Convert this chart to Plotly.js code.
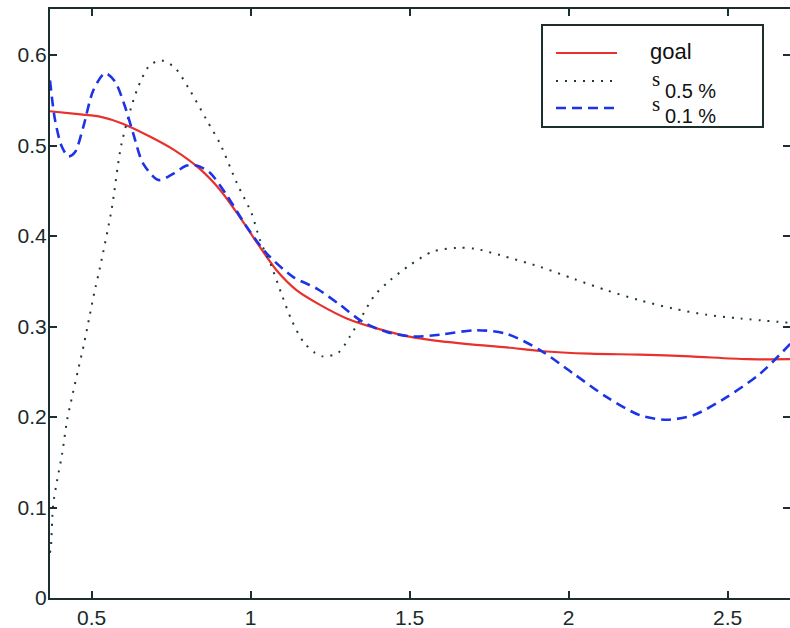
<!DOCTYPE html>
<html>
<head>
<meta charset="utf-8">
<script src="https://cdn.plot.ly/plotly-3.0.1.min.js"></script>
<style>html,body{margin:0;padding:0;background:#fff;}#chart{width:790px;height:628px;}</style>
</head>
<body>
<div id="chart"></div>
<script>
// goal curve
const goalX = [0.369, 0.45, 0.526, 0.60, 0.683, 0.76, 0.841, 0.904, 0.966, 1.029, 1.082, 1.145, 1.218, 1.302, 1.396, 1.511, 1.616, 1.70, 1.805, 1.91, 2.067, 2.224, 2.382, 2.56, 2.70];
const goalY = [0.538, 0.535, 0.532, 0.524, 0.510, 0.495, 0.474, 0.451, 0.421, 0.388, 0.362, 0.340, 0.324, 0.309, 0.298, 0.288, 0.283, 0.280, 0.277, 0.273, 0.270, 0.269, 0.267, 0.264, 0.264];

// s 0.5 %
const s05X = [0.369, 0.372, 0.379, 0.392, 0.407, 0.423, 0.44, 0.458, 0.476, 0.492, 0.508, 0.526, 0.563, 0.594, 0.642, 0.683, 0.72, 0.762, 0.809, 0.862, 0.904, 0.956, 1.003, 1.029, 1.066, 1.098, 1.129, 1.166, 1.202, 1.228, 1.275, 1.312, 1.349, 1.391, 1.438, 1.501, 1.573, 1.648, 1.705, 1.784, 1.91, 2.014, 2.12, 2.224, 2.328, 2.434, 2.539, 2.70];
const s05Y = [0.050, 0.057, 0.103, 0.131, 0.159, 0.197, 0.225, 0.253, 0.281, 0.309, 0.337, 0.365, 0.430, 0.502, 0.561, 0.589, 0.594, 0.586, 0.561, 0.528, 0.502, 0.459, 0.425, 0.396, 0.366, 0.335, 0.307, 0.283, 0.271, 0.267, 0.271, 0.289, 0.311, 0.335, 0.351, 0.368, 0.383, 0.387, 0.386, 0.379, 0.366, 0.353, 0.340, 0.329, 0.320, 0.313, 0.309, 0.304];

// s 0.1 %
const s01X = [0.369, 0.385, 0.406, 0.427, 0.448, 0.474, 0.505, 0.542, 0.573, 0.605, 0.631, 0.662, 0.710, 0.757, 0.799, 0.83, 0.872, 0.925, 0.988, 1.05, 1.133, 1.208, 1.281, 1.353, 1.428, 1.511, 1.595, 1.71, 1.805, 1.91, 2.015, 2.12, 2.224, 2.308, 2.392, 2.497, 2.602, 2.70];
const s01Y = [0.572, 0.528, 0.499, 0.488, 0.493, 0.521, 0.561, 0.580, 0.571, 0.543, 0.513, 0.480, 0.462, 0.469, 0.478, 0.478, 0.470, 0.445, 0.410, 0.381, 0.355, 0.342, 0.324, 0.305, 0.294, 0.289, 0.291, 0.296, 0.292, 0.274, 0.248, 0.222, 0.202, 0.197, 0.202, 0.222, 0.248, 0.282];

// legend labels: main symbol + subscript
const legendMain = ['goal', 's', 's'];
const legendSub = ['', '0.5 %', '0.1 %'];

const xTicks = [0.5, 1, 1.5, 2, 2.5];
const xTickText = ['0.5', '1', '1.5', '2', '2.5'];
const yTicks = [0, 0.1, 0.2, 0.3, 0.4, 0.5, 0.6];
const yTickText = ['0', '0.1', '0.2', '0.3', '0.4', '0.5', '0.6'];

const axisColor = '#1c2e2e';
const sans = 'Liberation Sans, Arial, sans-serif';
const serif = 'Liberation Serif, Times New Roman, serif';

const lineStyles = [
  {color: '#e8302c', width: 2.2, shape: 'spline', smoothing: 0.8},
  {color: '#1f3a38', width: 2, dash: '2px,7px', shape: 'spline', smoothing: 0.8},
  {color: '#1c34e6', width: 2.6, dash: '10px,6px', shape: 'spline', smoothing: 0.8}
];

const traces = [
  {x: goalX, y: goalY, name: 'goal', mode: 'lines', line: lineStyles[0]},
  {x: s05X, y: s05Y, name: 's 0.5 %', mode: 'lines', line: lineStyles[1]},
  {x: s01X, y: s01Y, name: 's 0.1 %', mode: 'lines', line: lineStyles[2]}
];

// pixel -> paper helpers for legend placement (plot area 50..790 x, 9..598 y)
const PX = p => (p - 50) / 740;
const PY = p => (598 - p) / 589;

const shapes = [
  {type: 'rect', xref: 'paper', yref: 'paper', x0: PX(542), x1: PX(763), y0: PY(127), y1: PY(25),
   fillcolor: '#ffffff', line: {color: axisColor, width: 2}, layer: 'above'}
];
const rowY = [53, 81, 108];
const annotations = [];
rowY.forEach((ry, i) => {
  shapes.push({type: 'line', xref: 'paper', yref: 'paper', x0: PX(556), x1: PX(617), y0: PY(ry), y1: PY(ry),
    line: {color: lineStyles[i].color, width: lineStyles[i].width, dash: lineStyles[i].dash || 'solid'}, layer: 'above'});
});
annotations.push({xref: 'paper', yref: 'paper', x: PX(648), y: PY(51), xanchor: 'left', yanchor: 'middle',
  text: legendMain[0], showarrow: false, font: {family: sans, size: 22, color: '#111'}});
[1, 2].forEach(i => {
  const sy = i === 1 ? 79 : 104;
  const suby = i === 1 ? 91 : 116;
  annotations.push({xref: 'paper', yref: 'paper', x: PX(650), y: PY(sy), xanchor: 'left', yanchor: 'middle',
    text: legendMain[i], showarrow: false, font: {family: serif, size: 21, color: '#111'}});
  annotations.push({xref: 'paper', yref: 'paper', x: PX(663), y: PY(suby), xanchor: 'left', yanchor: 'middle',
    text: legendSub[i], showarrow: false, font: {family: sans, size: 20, color: '#111'}});
});

const axisCommon = {
  showgrid: false, zeroline: false, showline: true, linecolor: axisColor, linewidth: 2,
  mirror: 'ticks', ticks: 'inside', ticklen: 7, tickwidth: 2, tickcolor: axisColor,
  tickfont: {family: sans, size: 21, color: '#1a2a2a'}
};

const layout = {
  width: 790, height: 628,
  margin: {l: 50, r: 0, t: 9, b: 30},
  paper_bgcolor: '#ffffff', plot_bgcolor: '#ffffff',
  showlegend: false,
  shapes: shapes,
  annotations: annotations,
  xaxis: Object.assign({}, axisCommon, {
    range: [0.369, 2.696], tickvals: xTicks, ticktext: xTickText, ticklabelstandoff: 0
  }),
  yaxis: Object.assign({}, axisCommon, {
    range: [0, 0.651], tickvals: yTicks, ticktext: yTickText, ticklabelstandoff: -3
  })
};

Plotly.newPlot('chart', traces, layout, {displayModeBar: false, staticPlot: true});
</script>
</body>
</html>
